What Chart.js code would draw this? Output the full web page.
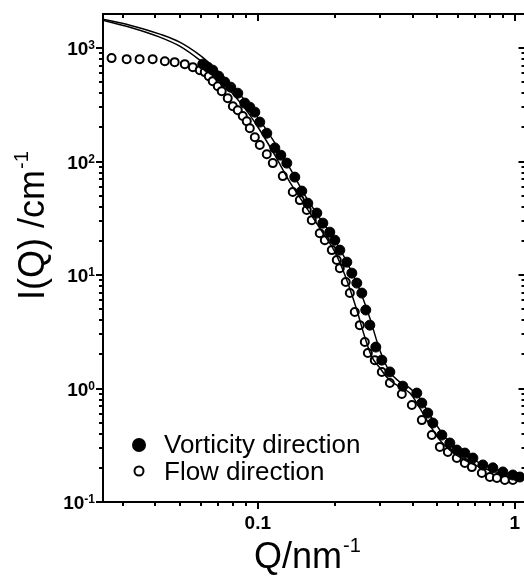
<!DOCTYPE html>
<html>
<head>
<meta charset="utf-8">
<title>I(Q) vs Q</title>
<script src="https://cdn.jsdelivr.net/npm/chart.js@4.4.0/dist/chart.umd.min.js"></script>
<style>
  html, body { margin: 0; padding: 0; background: #fff; overflow: hidden; }
  #wrap { width: 540px; height: 580px; }
</style>
</head>
<body>
<div id="wrap"><canvas id="saxs"></canvas></div>
<script>
(function () {
  "use strict";

  // Flow direction (open circles)
  var flowQ = [0.0270, 0.0309, 0.0347, 0.0390, 0.0435, 0.0475, 0.0520, 0.0559, 0.0595, 0.0622,
    0.0645, 0.0668, 0.0699, 0.0724, 0.0764, 0.0800, 0.0836, 0.0874, 0.0906, 0.0931,
    0.0974, 0.1018, 0.1084, 0.1144, 0.1251, 0.1368, 0.1457, 0.1551, 0.1622, 0.1742,
    0.1823, 0.1941, 0.2029, 0.2085, 0.2199, 0.2281, 0.2384, 0.2493, 0.2608, 0.2680,
    0.2852, 0.3037, 0.3264, 0.3633, 0.3974, 0.4346, 0.4753, 0.5107, 0.5486, 0.5945,
    0.6389, 0.6803, 0.7439, 0.7994, 0.8511, 0.9143, 0.982, 1.027];
  var flowI = [817, 800, 800, 800, 768, 753, 723, 680, 640, 615,
    566, 512, 462, 418, 362, 308, 284, 252, 227, 197,
    164, 140, 116, 97, 74.5, 54, 45.8, 37.4, 30.5, 23.4,
    20.3, 16.6, 13.6, 11.5, 8.68, 6.94, 4.72, 3.62, 2.57, 2.06,
    1.78, 1.40, 1.12, 0.896, 0.717, 0.527, 0.389, 0.306, 0.276, 0.244,
    0.221, 0.203, 0.180, 0.166, 0.163, 0.156, 0.156, 0.166];

  // Vorticity direction (filled circles)
  var vortQ = [0.0611, 0.0639, 0.0668, 0.0705, 0.0744, 0.0785, 0.0836, 0.0890, 0.0931, 0.0974,
    0.1018, 0.1084, 0.1165, 0.1229, 0.1297, 0.1393, 0.1483, 0.1565, 0.1697, 0.1791,
    0.1906, 0.1994, 0.2085, 0.2220, 0.2322, 0.2428, 0.2539, 0.2631, 0.2728, 0.2878,
    0.3037, 0.3264, 0.3665, 0.4155, 0.4346, 0.4584, 0.4798, 0.5200, 0.5586, 0.5945,
    0.6389, 0.6867, 0.7507, 0.8209, 0.8980, 0.982, 1.046];
  var vortI = [723, 680, 640, 566, 502, 453, 401, 328, 302, 273,
    223, 178, 132, 114, 97, 73, 55, 43, 35.2, 28.7,
    23.9, 20.3, 16.6, 13.0, 10.4, 8.5, 6.94, 4.92, 3.62, 2.32,
    1.78, 1.40, 1.05, 0.912, 0.745, 0.608, 0.497, 0.389, 0.331, 0.287,
    0.270, 0.244, 0.212, 0.200, 0.184, 0.173, 0.166];

  // Model fits (solid lines)
  var fitVortQ = [0.0249, 0.0318, 0.0416, 0.0497, 0.0595, 0.0680, 0.0778, 0.0890, 0.1018, 0.1165,
    0.1333, 0.1524, 0.1742, 0.1994, 0.2281, 0.2493, 0.2728, 0.2984, 0.3264, 0.3571,
    0.3904, 0.4269, 0.4667, 0.5107, 0.5586, 0.6389, 0.7307, 0.8743, 1.084];
  var fitVortI = [1802, 1595, 1329, 1130, 867, 667, 492, 348, 232, 146,
    87.7, 50.7, 31.8, 20.3, 11.5, 7.38, 4.18, 2.18, 1.40, 1.14,
    1.01, 0.824, 0.585, 0.431, 0.331, 0.259, 0.221, 0.187, 0.166];
  var fitFlowQ = [0.0249, 0.0318, 0.0416, 0.0497, 0.0595, 0.0680, 0.0778, 0.0890, 0.1018, 0.1165,
    0.1333, 0.1524, 0.1742, 0.1994, 0.2182, 0.2428, 0.2608, 0.2778, 0.2984, 0.3177,
    0.3571, 0.3904, 0.4269, 0.4667, 0.5107, 0.5586, 0.6389, 0.7307, 0.8743, 1.084];
  var fitFlowI = [1764, 1531, 1250, 1042, 784, 603, 426, 296, 190, 114,
    65.9, 41.4, 25.9, 16.0, 10.0, 4.92, 2.84, 1.90, 1.52, 1.26,
    1.03, 0.912, 0.673, 0.477, 0.351, 0.287, 0.234, 0.203, 0.180, 0.163];

  // Axis ticks
  var xMajor = [0.1, 1];
  var xLabels = ["0.1", "1"];
  var yMajor = [0.1, 1, 10, 100, 1000];
  var yExp = ["-1", "0", "1", "2", "3"];

  var FONT = "'Liberation Sans', Arial, Helvetica, sans-serif";

  function pairs(q, v) {
    return q.map(function (x, k) { return {x: x, y: v[k]}; });
  }

  function minors(decades) {
    var out = [];
    decades.forEach(function (d) {
      for (var m = 2; m <= 9; m++) out.push(+(d * m).toPrecision(3));
    });
    return out;
  }
  var xMinor = minors([0.01, 0.1]);
  var yMinor = minors([0.1, 1, 10, 100, 1000]);

  // Frame, ticks, labels, legend
  var axesPlugin = {
    id: "axesPlugin",
    afterDraw: function (chart) {
      var ctx = chart.ctx, a = chart.chartArea;
      var xs = chart.scales.x, ys = chart.scales.y;

      function seg(x1, y1, x2, y2) {
        ctx.beginPath(); ctx.moveTo(x1, y1); ctx.lineTo(x2, y2); ctx.stroke();
      }

      ctx.save();
      ctx.strokeStyle = "#000";
      ctx.fillStyle = "#000";
      ctx.lineWidth = 2;
      ctx.strokeRect(a.left, a.top, a.right - a.left, a.bottom - a.top);

      // y ticks: outside on the left, inside on the right
      yMajor.concat(yMinor).forEach(function (v) {
        if (v < ys.min || v >= ys.max) return;
        var p = Math.round(ys.getPixelForValue(v));
        var len = yMajor.indexOf(v) >= 0 ? 7 : 4;
        seg(a.left - len, p, a.left, p);
        seg(a.right - len, p, a.right, p);
      });

      // x ticks: outside at the bottom, inside at the top
      xMajor.concat(xMinor).forEach(function (v) {
        if (v <= xs.min || v > xs.max) return;
        var p = Math.round(xs.getPixelForValue(v));
        var len = xMajor.indexOf(v) >= 0 ? 7 : 4;
        seg(p, a.bottom, p, a.bottom + len);
        seg(p, a.top, p, a.top + len);
      });

      // y tick labels 10^n
      yMajor.forEach(function (v, k) {
        var p = ys.getPixelForValue(v);
        var right = a.left - 8;
        ctx.font = "bold 12px " + FONT;
        ctx.textAlign = "left";
        ctx.textBaseline = "alphabetic";
        var ew = ctx.measureText(yExp[k]).width;
        ctx.fillText(yExp[k], right - ew, p + 1);
        ctx.font = "bold 19px " + FONT;
        ctx.textAlign = "right";
        ctx.fillText("10", right - ew, p + 7);
      });

      // x tick labels
      ctx.font = "bold 19px " + FONT;
      ctx.textAlign = "center";
      xMajor.forEach(function (v, k) {
        ctx.fillText(xLabels[k], xs.getPixelForValue(v), a.bottom + 27);
      });

      // axis titles
      ctx.textAlign = "left";
      ctx.font = "36px " + FONT;
      var qx = 254, qy = 568;
      ctx.fillText("Q/nm", qx, qy);
      var qw = ctx.measureText("Q/nm").width;
      ctx.font = "20px " + FONT;
      ctx.fillText("-1", qx + qw + 1, qy - 16);

      ctx.save();
      ctx.translate(44, 300);
      ctx.rotate(-Math.PI / 2);
      ctx.font = "36px " + FONT;
      ctx.fillText("I(Q) /cm", 0, 0);
      var iw = ctx.measureText("I(Q) /cm").width;
      ctx.font = "20px " + FONT;
      ctx.fillText("-1", iw + 1, -16);
      ctx.restore();

      // legend
      ctx.font = "26px " + FONT;
      ctx.beginPath();
      ctx.arc(139, 445, 7, 0, Math.PI * 2);
      ctx.fill();
      ctx.fillText("Vorticity direction", 164, 453);
      ctx.beginPath();
      ctx.arc(139, 471, 4.5, 0, Math.PI * 2);
      ctx.fillStyle = "#fff";
      ctx.fill();
      ctx.stroke();
      ctx.fillStyle = "#000";
      ctx.fillText("Flow direction", 164, 480);

      ctx.restore();
    }
  };

  var ctx = document.getElementById("saxs").getContext("2d");
  var chart = new Chart(ctx, {
    type: "scatter",
    data: {
      datasets: [{
        label: "Vorticity direction",
        data: pairs(vortQ, vortI),
        pointRadius: 5,
        pointBackgroundColor: "#000",
        pointBorderColor: "#000",
        pointBorderWidth: 1,
        order: 1
      },
      {
        label: "Fit vorticity",
        data: pairs(fitVortQ, fitVortI),
        showLine: true,
        borderColor: "#000",
        borderWidth: 1.5,
        pointRadius: 0,
        cubicInterpolationMode: "monotone",
        order: 2
      },
      {
        label: "Fit flow",
        data: pairs(fitFlowQ, fitFlowI),
        showLine: true,
        borderColor: "#000",
        borderWidth: 1.5,
        pointRadius: 0,
        cubicInterpolationMode: "monotone",
        order: 2
      },
      {
        label: "Flow direction",
        data: pairs(flowQ, flowI),
        pointRadius: 4,
        pointBackgroundColor: "#fff",
        pointBorderColor: "#000",
        pointBorderWidth: 2,
        order: 3
      }]
    },
    options: {
      responsive: true,
      maintainAspectRatio: false,
      animation: false,
      layout: {
        padding: {left: 103, top: 14, right: 14.5, bottom: 78}
      },
      plugins: {
        legend: {display: false},
        tooltip: {enabled: false}
      },
      scales: {
        x: {type: "logarithmic", min: 0.025, max: 1.1, display: false},
        y: {type: "logarithmic", min: 0.1, max: 2000, display: false}
      }
    },
    plugins: [axesPlugin]
  });
})();
</script>
</body>
</html>
